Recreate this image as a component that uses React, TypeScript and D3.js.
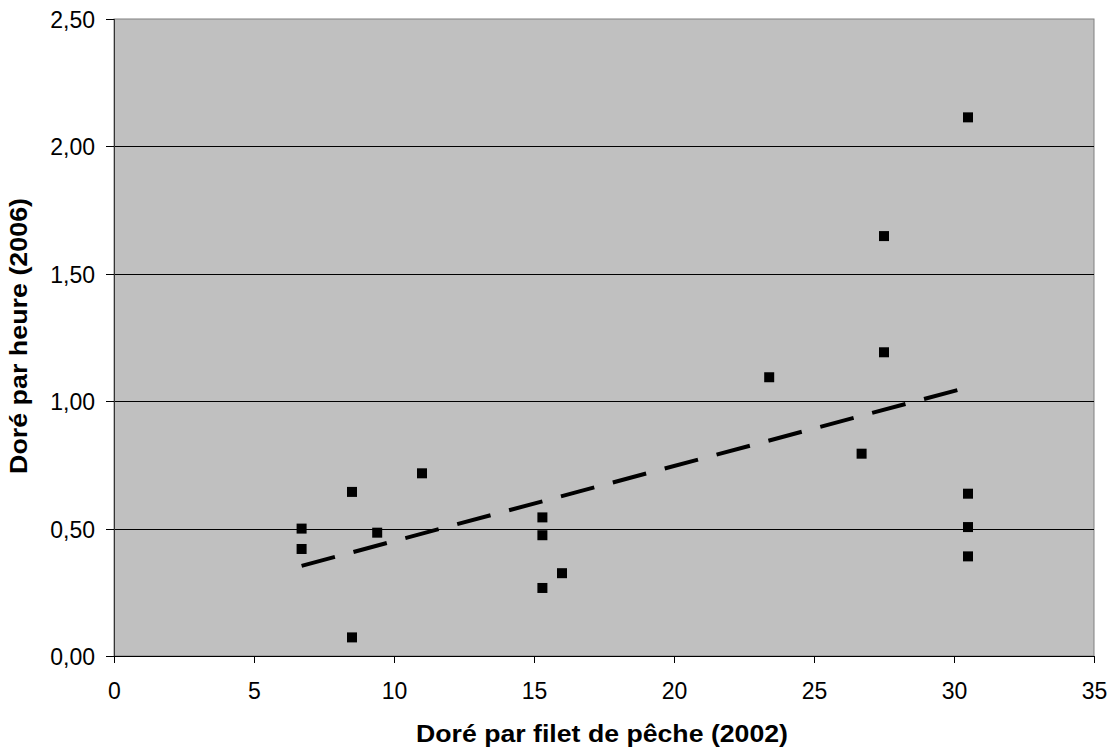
import React from 'react';
import * as d3 from 'd3';

// Doré par filet de pêche (2002) vs Doré par heure (2006)
const xValues = [6.7, 6.7, 8.5, 8.5, 9.4, 11.0, 15.3, 15.3, 15.3, 16.0, 23.4, 27.5, 27.5, 26.7, 30.5, 30.5, 30.5, 30.5];
const yValues = [0.5, 0.42, 0.644, 0.073, 0.484, 0.717, 0.544, 0.474, 0.267, 0.325, 1.094, 1.192, 1.648, 0.794, 2.114, 0.637, 0.506, 0.391];

const xTicks = [0, 5, 10, 15, 20, 25, 30, 35];
const yTicks = [0, 0.5, 1, 1.5, 2, 2.5];

const width = 1111;
const height = 748;
const margin = { top: 19, right: 17, bottom: 92, left: 114 };
const font = '"Liberation Sans", Arial, sans-serif';

const App: React.FC = () => {
  const innerWidth = width - margin.left - margin.right;
  const innerHeight = height - margin.top - margin.bottom;

  const xScale = d3.scaleLinear().domain([0, 35]).range([0, innerWidth]);
  const yScale = d3.scaleLinear().domain([0, 2.5]).range([innerHeight, 0]);

  // linear trend line (least squares)
  const mx = d3.mean(xValues) as number;
  const my = d3.mean(yValues) as number;
  const sxy = d3.sum(xValues, (x, i) => (x - mx) * (yValues[i] - my));
  const sxx = d3.sum(xValues, (x) => (x - mx) * (x - mx));
  const slope = sxy / sxx;
  const intercept = my - slope * mx;
  const [x0, x1] = d3.extent(xValues) as [number, number];
  const trend = d3
    .line<number>()
    .x((d) => xScale(d))
    .y((d) => yScale(intercept + slope * d))([x0, x1]);

  const fmtY = (v: number) => v.toFixed(2).replace('.', ',');
  const markerSize = 10;

  return (
    <svg
      width={width}
      height={height}
      style={{ position: 'absolute', left: 0, top: 0, background: '#fff' }}
      fontFamily={font}
    >
      <g transform={`translate(${margin.left},${margin.top})`}>
        <rect x={0} y={0} width={innerWidth} height={innerHeight} fill="#c0c0c0" stroke="#808080" strokeWidth={1} />

        {/* grid lines */}
        {yTicks.slice(1, -1).map((t) => (
          <line key={`g${t}`} x1={0} x2={innerWidth} y1={Math.round(yScale(t)) + 0.5} y2={Math.round(yScale(t)) + 0.5} stroke="#000" strokeWidth={1} />
        ))}

        {/* axes */}
        <line x1={0.5} x2={0.5} y1={0} y2={innerHeight} stroke="#333" strokeWidth={1} />
        <line x1={0} x2={innerWidth} y1={innerHeight + 0.5} y2={innerHeight + 0.5} stroke="#000" strokeWidth={1} />

        {yTicks.map((t) => (
          <g key={`y${t}`} transform={`translate(0,${Math.round(yScale(t)) + 0.5})`}>
            <line x1={-8} x2={0} stroke="#000" strokeWidth={1} />
            <text x={-19} dy="0.36em" textAnchor="end" fontSize={23} fill="#000">
              {fmtY(t)}
            </text>
          </g>
        ))}

        {xTicks.map((t) => (
          <g key={`x${t}`} transform={`translate(${Math.round(xScale(t)) + 0.5},${innerHeight})`}>
            <line y1={0} y2={7} stroke="#000" strokeWidth={1} />
            <text y={43} textAnchor="middle" fontSize={23} fill="#000">
              {t}
            </text>
          </g>
        ))}

        {/* trend line */}
        <path d={trend ?? ''} fill="none" stroke="#000" strokeWidth={4} strokeDasharray="34.5 19.2" />

        {/* points */}
        {xValues.map((x, i) => (
          <rect
            key={`p${i}`}
            x={xScale(x) - markerSize / 2}
            y={yScale(yValues[i]) - markerSize / 2}
            width={markerSize}
            height={markerSize}
            fill="#000"
          />
        ))}
      </g>

      <text
        x={602}
        y={742}
        textAnchor="middle"
        fontSize={23}
        fontWeight="bold"
        fill="#000"
        textLength={372}
        lengthAdjust="spacingAndGlyphs"
      >
        Doré par filet de pêche (2002)
      </text>
      <text
        transform="translate(27,336) rotate(-90)"
        textAnchor="middle"
        fontSize={23}
        fontWeight="bold"
        fill="#000"
        textLength={276}
        lengthAdjust="spacingAndGlyphs"
      >
        Doré par heure (2006)
      </text>
    </svg>
  );
};

export default App;
